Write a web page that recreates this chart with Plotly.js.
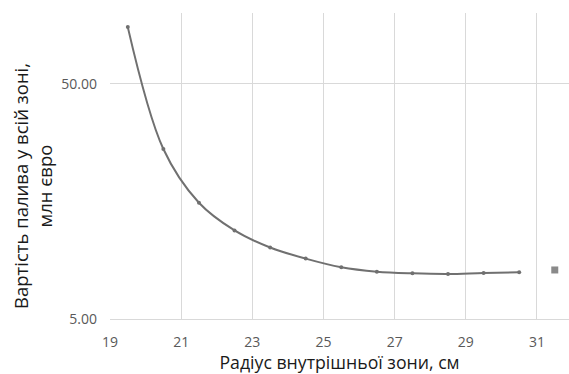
<!DOCTYPE html>
<html>
<head>
<meta charset="utf-8">
<script src="https://cdn.plot.ly/plotly-3.0.1.min.js"></script>
<style>html,body{margin:0;padding:0;background:#fff;}#chart{width:569px;height:374px;}</style>
</head>
<body>
<div id="chart"></div>
<script>
const radius = [19.5, 20.5, 21.5, 22.5, 23.5, 24.5, 25.5, 26.5, 27.5, 28.5, 29.5, 30.5];
const cost = [87.1, 26.4, 15.6, 11.9, 10.07, 9.03, 8.30, 7.95, 7.82, 7.77, 7.85, 7.90];
const extraX = [31.5];
const extraY = [8.08];
const yTickVals = [5, 50];
const yTickText = ['5.00', '50.00'];
const xTickVals = [19, 21, 23, 25, 27, 29, 31];

const font = "'Open Sans', 'Liberation Sans', sans-serif";

const traces = [
  {
    x: radius, y: cost, type: 'scatter', mode: 'lines+markers',
    line: {shape: 'spline', smoothing: 1, color: '#707070', width: 2},
    marker: {size: 4, color: '#707070'},
    showlegend: false, hoverinfo: 'none'
  },
  {
    x: extraX, y: extraY, type: 'scatter', mode: 'markers',
    marker: {symbol: 'square', size: 7, color: '#8a8a8a'},
    showlegend: false, hoverinfo: 'none'
  }
];

const layout = {
  width: 569, height: 374,
  margin: {l: 110, r: 0, t: 13, b: 55, pad: 0},
  paper_bgcolor: '#fff', plot_bgcolor: '#fff',
  font: {family: font, color: '#595959', size: 14},
  showlegend: false,
  xaxis: {
    range: [19, 31.9], tickvals: xTickVals, ticktext: xTickVals.map(String),
    showgrid: true, gridcolor: '#d9d9d9', gridwidth: 1,
    zeroline: false, showline: true, linecolor: '#d9d9d9', linewidth: 1,
    ticks: '', ticklabelstandoff: 10,
    tickfont: {family: font, size: 14, color: '#595959'},
    title: {text: 'Радіус внутрішньої зони, см', font: {family: font, size: 17.7, color: '#1a1a1a'}, standoff: 6}
  },
  yaxis: {
    type: 'log', range: [Math.log10(5), 2],
    tickvals: yTickVals, ticktext: yTickText,
    showgrid: true, gridcolor: '#d9d9d9', gridwidth: 1,
    zeroline: false, showline: false,
    ticks: '', ticklabelstandoff: 12,
    tickfont: {family: font, size: 14, color: '#595959'}
  },
  annotations: [{
    text: 'Вартість палива у всій зоні,<br>млн євро',
    xref: 'paper', yref: 'paper', x: 0, y: 0.4346,
    xanchor: 'center', yanchor: 'middle', xshift: -78,
    textangle: -90, showarrow: false,
    font: {family: font, size: 18.5, color: '#1a1a1a'}
  }]
};

Plotly.newPlot('chart', traces, layout, {displayModeBar: false, staticPlot: true});
</script>
</body>
</html>
